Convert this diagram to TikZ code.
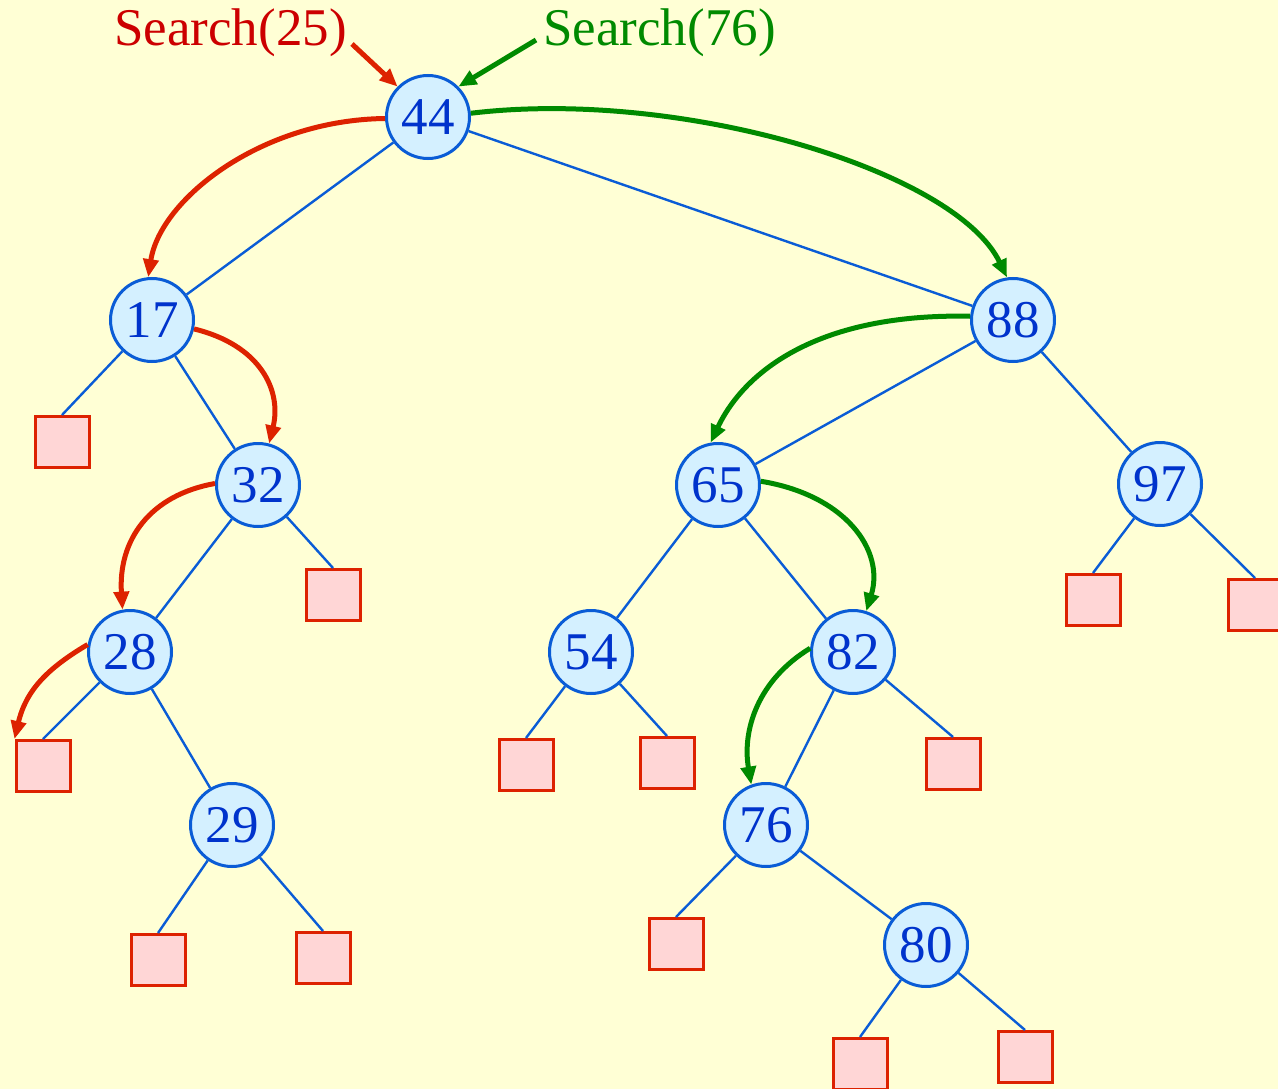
\documentclass[tikz,border=0pt]{standalone}
\usepackage{fontspec}
\setmainfont{Liberation Serif}
\usetikzlibrary{arrows.meta}
\definecolor{bgyellow}{HTML}{FFFFD5}
\definecolor{keyfill}{HTML}{D4F0FF}
\definecolor{keyline}{HTML}{0A5CD6}
\definecolor{keytext}{HTML}{0033CC}
\definecolor{leaffill}{HTML}{FFD6D6}
\definecolor{leafline}{HTML}{DD2200}
\definecolor{pathred}{HTML}{DD2200}
\definecolor{labelred}{HTML}{CC0000}
\definecolor{pathgreen}{HTML}{008A00}
\tikzset{
  key/.style={circle, draw=keyline, fill=keyfill, line width=3pt,
    minimum size=83pt, inner sep=0pt, text=keytext,
    font=\fontsize{53}{60}\selectfont},
  leaf/.style={rectangle, draw=leafline, fill=leaffill, line width=3pt,
    minimum width=54pt, minimum height=51pt, inner sep=0pt},
  edge/.style={draw=keyline, line width=2.4pt},
  redpath/.style={draw=pathred, line width=5pt,
    -{Triangle[length=18pt,width=15pt]}},
  greenpath/.style={draw=pathgreen, line width=5pt,
    -{Triangle[length=18pt,width=15pt]}},
  caption/.style={font=\fontsize{53}{60}\selectfont, inner sep=0pt, anchor=base west}
}
\begin{document}
\begin{tikzpicture}[x=1pt,y=-1pt]
\fill[bgyellow] (0,0) rectangle (1278,1089);
\useasboundingbox (0,0) rectangle (1278,1089);

% internal keys
\node[key] (n44) at (428,117) {44};
\node[key] (n17) at (152,320) {17};
\node[key] (n88) at (1013,320) {88};
\node[key] (n32) at (258,485) {32};
\node[key] (n65) at (718,485) {65};
\node[key] (n97) at (1160,484) {97};
\node[key] (n28) at (130,652) {28};
\node[key] (n54) at (591,652) {54};
\node[key] (n82) at (853,652) {82};
\node[key] (n29) at (232,825) {29};
\node[key] (n76) at (766,825) {76};
\node[key] (n80) at (926,945) {80};

% external leaves
\node[leaf] (l17) at (62,442) {};
\node[leaf] (l32) at (333,595) {};
\node[leaf] (l28) at (43,766) {};
\node[leaf] (l29a) at (158,960) {};
\node[leaf] (l29b) at (323,958) {};
\node[leaf] (l54a) at (526,765) {};
\node[leaf] (l54b) at (667,763) {};
\node[leaf] (l82) at (953,764) {};
\node[leaf] (l76) at (676,944) {};
\node[leaf] (l80a) at (860,1064) {};
\node[leaf] (l80b) at (1025,1057) {};
\node[leaf] (l97a) at (1093,600) {};
\node[leaf] (l97b) at (1255,605) {};

% tree edges
\path[edge] (n44) -- (n17);
\path[edge] (n44) -- (n88);
\path[edge] (n17) -- (l17.north);
\path[edge] (n17) -- (n32);
\path[edge] (n32) -- (n28);
\path[edge] (n32) -- (l32.north);
\path[edge] (n28) -- (l28.north);
\path[edge] (n28) -- (n29);
\path[edge] (n29) -- (l29a.north);
\path[edge] (n29) -- (l29b.north);
\path[edge] (n88) -- (n65);
\path[edge] (n88) -- (n97);
\path[edge] (n65) -- (n54);
\path[edge] (n65) -- (n82);
\path[edge] (n54) -- (l54a.north);
\path[edge] (n54) -- (l54b.north);
\path[edge] (n82) -- (n76);
\path[edge] (n82) -- (l82.north);
\path[edge] (n76) -- (l76.north);
\path[edge] (n76) -- (n80);
\path[edge] (n80) -- (l80a.north);
\path[edge] (n80) -- (l80b.north);
\path[edge] (n97) -- (l97a.north);
\path[edge] (n97) -- (l97b.north);

% search labels
\node[caption, text=labelred] (s25) at (114,46) {Search(25)};
\node[caption, text=pathgreen] (s76) at (543,46) {Search(76)};
\coordinate (s25tail) at (352,44);
\coordinate (s76tail) at (536,40);
\draw[redpath] (s25tail) -- (n44.135);
\draw[greenpath] (s76tail) -- (n44.45);

% search path for 25
\draw[redpath] (n44.182) .. controls (260,120) and (160,200) .. (n17.95);
\draw[redpath] (n17.-12) .. controls (260,345) and (282,390) .. (n32.75);
\draw[redpath] (n32.178) .. controls (150,495) and (118,540) .. (n28.100);
\draw[redpath] (n28.170) .. controls (48,668) and (26,690) .. (l28.north west);

% search path for 76
\draw[greenpath] (n44.5) .. controls (680,88) and (955,170) .. (n88.98);
\draw[greenpath] (n88.175) .. controls (820,313) and (745,370) .. (n65.100);
\draw[greenpath] (n65.5) .. controls (845,495) and (885,550) .. (n82.72);
\draw[greenpath] (n82.175) .. controls (758,680) and (742,730) .. (n76.110);
\end{tikzpicture}
\end{document}
